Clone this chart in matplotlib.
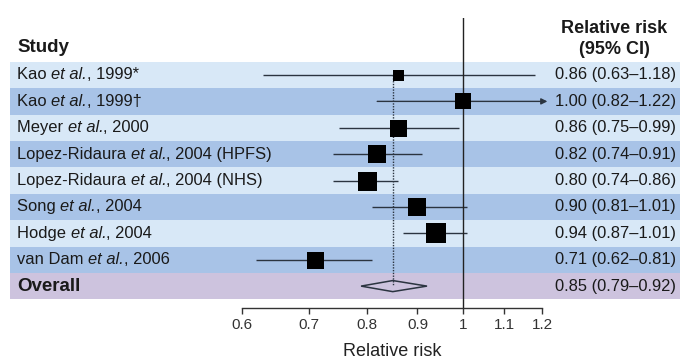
import matplotlib
matplotlib.use("Agg")
import matplotlib.pyplot as plt
import matplotlib.transforms as mtransforms
from matplotlib.patches import Rectangle, Polygon

plt.rcParams['font.family'] = ['Liberation Sans', 'DejaVu Sans']

# study label parts: (author, year/suffix)
authors = ["Kao", "Kao", "Meyer", "Lopez-Ridaura", "Lopez-Ridaura",
           "Song", "Hodge", "van Dam"]
suffixes = [", 1999*", ", 1999\u2020", ", 2000", ", 2004 (HPFS)",
            ", 2004 (NHS)", ", 2004", ", 2004", ", 2006"]
rr = [0.86, 1.00, 0.86, 0.82, 0.80, 0.90, 0.94, 0.71]
lo = [0.63, 0.82, 0.75, 0.74, 0.74, 0.81, 0.87, 0.62]
hi = [1.18, 1.22, 0.99, 0.91, 0.86, 1.01, 1.01, 0.81]
weights = [11, 16, 17, 18, 19, 18, 20, 17]
overall = (0.85, 0.79, 0.92)
xticks = [0.6, 0.7, 0.8, 0.9, 1.0, 1.1, 1.2]
xticklabels = ["0.6", "0.7", "0.8", "0.9", "1", "1.1", "1.2"]

W, H = 680, 361
fig = plt.figure(figsize=(W / 100, H / 100), dpi=100)
ax = fig.add_axes([242 / W, 1 - 308 / H, 300 / W, 290 / H])
ax.set_xscale('log')
ax.set_xlim(0.6, 1.2)
ax.set_ylim(8.83, -2.16)
ax.patch.set_alpha(0)

light = '#d8e8f7'
dark = '#a8c3e7'
ovc = '#cdc3de'
band_tr = mtransforms.blended_transform_factory(fig.transFigure, ax.transData)
n = len(authors)
for i in range(n + 1):
    if i == n:
        c = ovc
    else:
        c = light if i % 2 == 0 else dark
    ax.add_patch(Rectangle((10 / W, i - 0.5), 1 - 10 / W, 1.0,
                           transform=band_tr, facecolor=c,
                           edgecolor='none', zorder=0, clip_on=False))

line_c = '#2b3440'
for i in range(n):
    if hi[i] > 1.2:
        ax.annotate('', xy=(1.215, i), xytext=(lo[i], i),
                    arrowprops=dict(arrowstyle='-|>', color=line_c, lw=1.0,
                                    mutation_scale=9, shrinkA=0, shrinkB=0),
                    annotation_clip=False, zorder=3)
    else:
        ax.plot([lo[i], hi[i]], [i, i], color=line_c, lw=1.0, zorder=3,
                solid_capstyle='butt')
    ax.plot(rr[i], i, marker='s', markersize=weights[i] * 0.72,
            color='black', markeredgewidth=0, zorder=4)

# overall diamond
o, ol, oh = overall
dh = 0.21
ax.add_patch(Polygon([[ol, n], [o, n - dh], [oh, n], [o, n + dh]],
                     closed=True, facecolor='none', edgecolor=line_c,
                     lw=1.1, zorder=4))
ax.plot([o, o], [0, n], color=line_c, lw=1.0, ls=(0, (1, 1)), zorder=3)
ax.axvline(1.0, color='#222222', lw=1.0, zorder=3)

for s in ['top', 'right', 'left']:
    ax.spines[s].set_visible(False)
ax.spines['bottom'].set_color('#333333')
ax.spines['bottom'].set_linewidth(1.0)
ax.set_yticks([])
ax.set_xticks(xticks)
ax.set_xticklabels(xticklabels)
ax.minorticks_off()
ax.tick_params(axis='x', direction='out', length=4, width=1, color='#333333',
               labelsize=11, labelcolor='#333333', pad=3)
ax.set_xlabel("Relative risk", fontsize=13, color='#222222', labelpad=8)

# left labels (author + italic et al. + suffix)
fs = 11.9
text_tr = mtransforms.blended_transform_factory(fig.transFigure, ax.transData)
renderer = fig.canvas.get_renderer()
for i in range(n):
    x0 = 17 / W
    for part, style in [(authors[i] + " ", 'normal'), ("et al.", 'italic'),
                        (suffixes[i], 'normal')]:
        t = ax.text(x0, i, part, transform=text_tr, fontsize=fs, va='center',
                    ha='left', color='#1a1a1a', zorder=5, style=style)
        bb = t.get_window_extent(renderer=renderer)
        x0 += bb.width / W
ax.text(17 / W, n, "Overall", transform=text_tr, fontsize=13.5,
        fontweight='bold', va='center', ha='left', color='#1a1a1a', zorder=5)
ax.text(17 / W, -1.05, "Study", transform=text_tr, fontsize=13.5,
        fontweight='bold', va='center', ha='left', color='#1a1a1a', zorder=5)

# right column
for i in range(n):
    ax.text(676 / W, i, f"{rr[i]:.2f} ({lo[i]:.2f}\u2013{hi[i]:.2f})",
            transform=text_tr, fontsize=fs, va='center', ha='right',
            color='#1a1a1a', zorder=5)
ax.text(676 / W, n, f"{o:.2f} ({ol:.2f}\u2013{oh:.2f})",
        transform=text_tr, fontsize=fs, va='center', ha='right',
        color='#1a1a1a', zorder=5)
ax.text(614 / W, -1.37, "Relative risk\n(95% CI)", transform=text_tr,
        fontsize=13, fontweight='bold', va='center', ha='center',
        color='#1a1a1a', linespacing=1.3, zorder=5)

fig.savefig("out.png", dpi=100)
